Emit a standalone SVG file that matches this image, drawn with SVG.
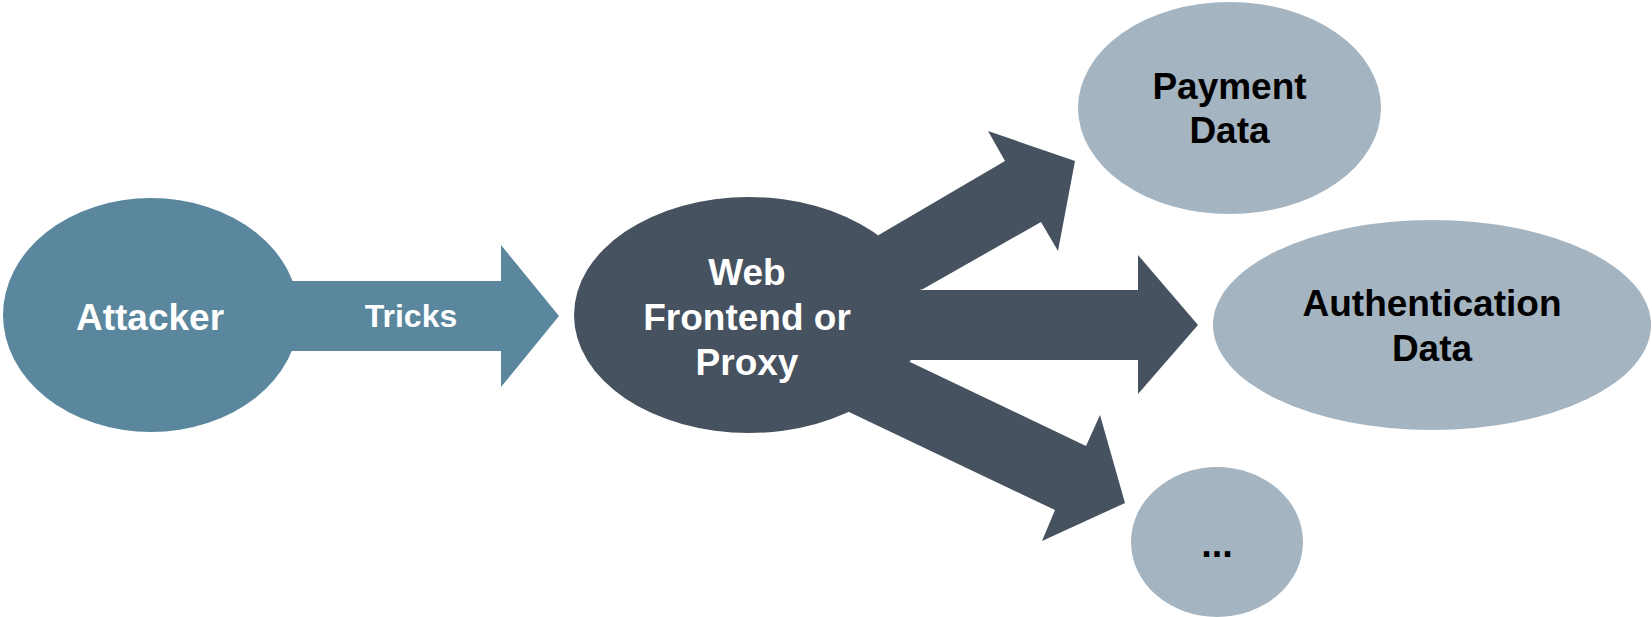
<svg xmlns="http://www.w3.org/2000/svg" width="1652" height="617" viewBox="0 0 1652 617">
<style>
.t{font-family:"Liberation Sans",Arial,sans-serif;font-weight:bold;text-anchor:middle}
.w{fill:#ffffff}
.k{fill:#000000}
.blue{fill:#5A879E}
.dark{fill:#46525F}
.light{fill:#A5B4C1}
</style>
<rect width="1652" height="617" fill="#ffffff"/>
<g id="connectors">
<polygon class="blue" points="230,281 501,281 501,245 559,316 501,387 501,351 230,351"/>
<polygon class="dark" points="877,236 1005,161 988,131 1075,161 1058,251 1041,222 923,289 850,310"/>
<polygon class="dark" points="860,290 1138,290 1138,255 1198,325 1138,394 1138,360 860,360"/>
<polygon class="dark" points="910,362 1086,446 1100,415 1125,503 1042,541 1055,510 849,412 830,380"/>
</g>
<g id="attacker">
<ellipse class="blue" cx="151" cy="315" rx="148" ry="117"/>
<text class="t w" x="150" y="330" font-size="37">Attacker</text>
</g>
<g id="tricks-label">
<text class="t w" x="411" y="327" font-size="32">Tricks</text>
</g>
<g id="web">
<ellipse class="dark" cx="749" cy="315" rx="175" ry="118"/>
<text class="t w" font-size="37"><tspan x="747" y="285">Web</tspan><tspan x="747" y="330">Frontend or</tspan><tspan x="747" y="375">Proxy</tspan></text>
</g>
<g id="payment">
<ellipse class="light" cx="1229.5" cy="108" rx="151.5" ry="106"/>
<text class="t k" font-size="37"><tspan x="1229.5" y="99">Payment</tspan><tspan x="1229.5" y="143">Data</tspan></text>
</g>
<g id="auth">
<ellipse class="light" cx="1432" cy="325" rx="219" ry="105"/>
<text class="t k" font-size="37"><tspan x="1432" y="316">Authentication</tspan><tspan x="1432" y="361">Data</tspan></text>
</g>
<g id="more">
<ellipse class="light" cx="1217" cy="542" rx="86" ry="75"/>
<text class="t k" x="1217" y="557" font-size="38">...</text>
</g>
</svg>
